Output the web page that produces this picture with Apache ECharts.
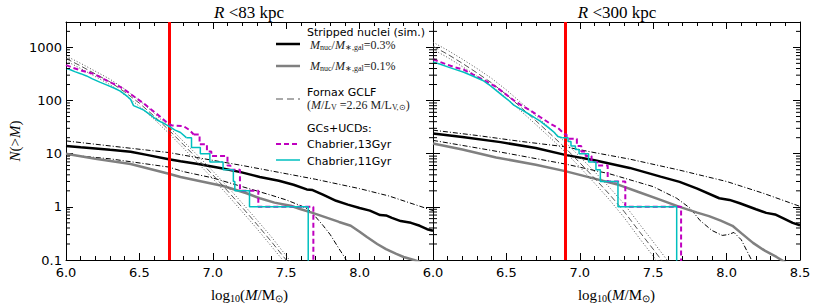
<!DOCTYPE html>
<html><head><meta charset="utf-8">
<script src="https://cdn.jsdelivr.net/npm/echarts@6/dist/echarts.min.js"></script>
<style>html,body{margin:0;padding:0;background:#fff}#c{width:822px;height:308px}</style>
</head><body><div id="c"></div>
<script>
// ================= DATA =================
const X_TICKS = [6.0, 6.5, 7.0, 7.5, 8.0, 8.5];
const Y_DECADES = [0.1, 1, 10, 100, 1000];
const MINOR_Y = [0.2,0.3,0.4,0.5,0.6,0.7,0.8,0.9,2,3,4,5,6,7,8,9,20,30,40,50,60,70,80,90,200,300,400,500,600,700,800,900,2000];
const RED_LIMIT_L = 6.7, RED_LIMIT_R = 6.9;

// ---- left panel: R < 83 kpc ----
const X_NUC03_L = [6.0,6.1,6.2,6.3,6.44,6.55,6.7,6.78,6.9,7.05,7.19,7.32,7.45,7.55,7.64,7.68,7.75,7.84,7.92,8.0,8.07,8.14,8.18,8.22,8.28,8.35,8.41,8.46,8.5];
const N_NUC03_L = [14,13.2,12.5,11.8,10.9,9.5,7.85,7.2,6.4,5.4,4.5,3.65,3.1,2.6,2.13,2.07,1.7,1.3,1.1,0.95,0.85,0.7,0.69,0.62,0.54,0.5,0.44,0.38,0.355];
const X_NUC01_L = [6.0,6.2,6.44,6.7,6.78,6.9,7.07,7.23,7.32,7.42,7.53,7.6,7.68,7.78,7.86,7.94,8.0,8.05,8.12,8.18,8.25,8.3,8.37,8.42];
const N_NUC01_L = [10,8.0,6.4,4.2,3.65,3.1,2.46,1.8,1.45,1.2,1.05,0.9,0.77,0.62,0.52,0.44,0.34,0.27,0.2,0.16,0.13,0.114,0.1,0.09];
const X_UP_L = [6.0,6.3,6.7,7.0,7.2,7.5,7.7,8.0,8.2,8.4,8.5];
const N_UP_L = [17.4,14,10.5,7.5,6.0,4.2,3.3,2.2,1.6,1.05,0.85];
const X_LO_L = [6.0,6.3,6.7,6.8,7.0,7.2,7.4,7.5,7.6,7.65,7.7,7.75,7.8,7.85,7.9,7.95];
const N_LO_L = [9.6,8.0,5.6,4.6,3.5,2.4,1.65,1.35,1.05,0.9,0.65,0.45,0.3,0.18,0.11,0.06];
const X_GCLF_L = [6.0,6.1,6.2,6.3,6.4,6.5,6.6,6.7,6.8,6.9,7.0,7.1,7.2,7.3,7.4,7.5,7.55];
const N_GCLF_L = [617,447,316,224,145,89,51,28,14.8,7.8,4.0,2.0,0.98,0.47,0.22,0.1,0.066];
const N_GCLF_HI_L = [690,500,355,252,164,101,58,32,17,9.1,4.7,2.4,1.18,0.57,0.27,0.12,0.08];
const N_GCLF_LO_L = [556,400,282,199,128,78,44.5,24.3,12.7,6.6,3.4,1.68,0.81,0.39,0.18,0.083,0.055];
// GCs+UCDs, Chabrier 11 Gyr: continuous part, then discrete steps
const X_C11_L = [6.0,6.03,6.06,6.1,6.14,6.18,6.23,6.28,6.33,6.37,6.4,6.42,6.44,6.46,6.5,6.53,6.57,6.62,6.66,6.7,6.74,6.78,6.82];
const N_C11_L = [403,380,350,320,290,256,222,195,170,150,130,118,105,80,72,66,55,43,38,33,28,25,20];
const XS_C11_L = [6.82,6.855,6.915,6.98,7.07,7.14,7.15,7.25,7.65];
const NS_C11_L = [20,13,10,7,5,3,2,1,0.01];
// GCs+UCDs, Chabrier 13 Gyr
const X_C13_L = [6.0,6.05,6.1,6.15,6.19,6.25,6.31,6.37,6.42,6.47,6.53,6.58,6.64,6.69,6.72,6.8,6.84,6.87];
const N_C13_L = [464,410,370,340,316,260,215,180,145,115,88,68,50,38,34,33,28,23];
const XS_C13_L = [6.87,6.91,6.96,6.99,7.1,7.12,7.185,7.31,7.685];
const NS_C13_L = [23,15,11,9,6,5,2,1,0.01];

// ---- right panel: R < 300 kpc ----
const X_NUC03_R = [6.0,6.2,6.46,6.7,6.9,7.1,7.34,7.55,7.68,7.8,7.95,8.02,8.09,8.2,8.27,8.33,8.38,8.45,8.5];
const N_NUC03_R = [24,20.5,16.5,12.8,9.5,7.5,5.4,3.7,2.95,2.2,1.45,1.35,1.17,0.9,0.77,0.72,0.62,0.5,0.45];
const X_NUC01_R = [6.0,6.2,6.43,6.7,6.9,7.1,7.27,7.4,7.55,7.68,7.8,7.88,7.96,8.04,8.1,8.18,8.26,8.34,8.4];
const N_NUC01_R = [15.5,12,8.5,6.2,4.7,3.4,2.57,1.9,1.35,1.0,0.78,0.67,0.55,0.44,0.32,0.21,0.15,0.114,0.09];
const X_UP_R = [6.0,6.3,6.6,6.9,7.09,7.34,7.68,8.0,8.25,8.5];
const N_UP_R = [27.7,22,17,13.5,10.6,7.9,4.9,3.0,1.8,1.02];
const X_LO_R = [6.0,6.4,6.9,7.2,7.5,7.66,7.75,7.82,7.9,7.97,8.01,8.05,8.1,8.17,8.2];
const N_LO_R = [17.8,11.5,6.4,4.2,2.4,1.45,0.95,0.55,0.36,0.29,0.3,0.33,0.24,0.1,0.07];
const X_GCLF_R = [6.0,6.1,6.2,6.3,6.4,6.5,6.6,6.7,6.8,6.9,7.0,7.1,7.2,7.3,7.4,7.5,7.55,7.6];
const N_GCLF_R = [1047,741,501,331,214,129,74,41.7,23.4,12.9,6.76,3.47,1.74,0.83,0.36,0.16,0.105,0.068];
const N_GCLF_HI_R = [1250,880,600,400,260,158,91,52,29.5,16.5,8.8,4.6,2.35,1.15,0.5,0.22,0.145,0.095];
const N_GCLF_LO_R = [915,645,435,287,185,111,63,35.5,19.8,10.8,5.6,2.8,1.38,0.64,0.27,0.118,0.076,0.049];
const X_C11_R = [6.0,6.05,6.1,6.15,6.21,6.27,6.34,6.38,6.43,6.48,6.52,6.55,6.6,6.66,6.7,6.73,6.78,6.82,6.85,6.88];
const N_C11_R = [533,480,430,385,340,290,238,200,155,120,98,82,68,54,46,41,32,26,21,20];
const XS_C11_R = [6.88,6.92,6.94,6.97,6.995,7.06,7.11,7.14,7.26,7.66];
const NS_C11_R = [20,17,14,12,10,7,5,3,1,0.01];
const X_C13_R = [6.0,6.05,6.1,6.15,6.21,6.28,6.35,6.43,6.49,6.55,6.6,6.66,6.73,6.79,6.85,6.9];
const N_C13_R = [598,530,470,420,380,300,240,180,135,101,82,66,49,38,30.6,23];
const XS_C13_R = [6.9,6.91,6.98,7.01,7.04,7.08,7.12,7.19,7.31,7.69];
const NS_C13_R = [23,19,14,11,9,7,6,3,1,0.01];

// ================= CHART =================
const zip = (xs, ys) => xs.map((x, i) => [x, ys[i]]);
const SERIF = 'Liberation Serif';
const SANS = 'DejaVu Sans';

const C_BLACK = '#000000', C_GRAY = '#808080', C_MAG = '#bf00bf', C_CYAN = '#00bfbf', C_RED = '#ff0000', C_GCLF = '#555555';
const DASHDOT = [5, 2, 1, 2];

function xAxisDef(grid, pos, showLabels, hideMax) {
  return {
    type: 'value', gridIndex: grid, position: pos, min: 6, max: 8.5, interval: 0.5,
    axisLine: { show: true, onZero: false, lineStyle: { color: '#000', width: 1 } },
    axisTick: { show: true, inside: true, length: 7, lineStyle: { color: '#000', width: 1 } },
    minorTick: { show: true, splitNumber: 5, length: 4, lineStyle: { color: '#000', width: 1 } },
    splitLine: { show: false },
    axisLabel: {
      show: showLabels, margin: 6, fontSize: 13, fontFamily: SANS, color: '#000',
      showMaxLabel: !hideMax, showMinLabel: true,
      formatter: v => X_TICKS.some(t => Math.abs(t - v) < 1e-9) ? v.toFixed(1) : ''
    },
    name: showLabels ? '{r|log}{s|10}{r|(}{i|M}{r|/M}{s|⊙}{r|)}' : '',
    nameLocation: 'middle', nameGap: 27,
    nameTextStyle: {
      color: '#000',
      rich: {
        r: { fontFamily: SERIF, fontSize: 15, color: '#000' },
        i: { fontFamily: SERIF, fontStyle: 'italic', fontSize: 15, color: '#000' },
        s: { fontFamily: SERIF, fontSize: 10, color: '#000', verticalAlign: 'bottom', padding: [6, 0, 0, 0] }
      }
    }
  };
}
function yAxisDef(grid, pos, showLabels) {
  return {
    type: 'log', logBase: 10, gridIndex: grid, position: pos, min: 0.1, max: 3000,
    axisLine: { show: true, onZero: false, lineStyle: { color: '#000', width: 1 } },
    axisTick: { show: true, inside: true, length: 7, lineStyle: { color: '#000', width: 1 } },
    minorTick: { show: false },
    splitLine: { show: false },
    axisLabel: {
      show: showLabels, margin: 4, fontSize: 13, fontFamily: SANS, color: '#000', showMaxLabel: false,
      formatter: v => {
        const d = Y_DECADES.find(t => Math.abs(Math.log10(t) - Math.log10(v)) < 1e-6);
        return d === undefined ? '' : String(d);
      }
    },
    name: showLabels ? '{i|N}{r|(>}{i|M}{r|)}' : '',
    nameLocation: 'middle', nameGap: 44, nameRotate: 90,
    nameTextStyle: {
      color: '#000',
      rich: {
        r: { fontFamily: SERIF, fontSize: 15, color: '#000' },
        i: { fontFamily: SERIF, fontStyle: 'italic', fontSize: 15, color: '#000' }
      }
    }
  };
}

function lineSeries(xi, yi, xs, ys, color, width, type, z, step) {
  return {
    type: 'line', xAxisIndex: xi, yAxisIndex: yi, data: zip(xs, ys),
    showSymbol: false, symbol: 'none', smooth: false, step: step || false, clip: true,
    silent: true, animation: false, z: z,
    lineStyle: { color: color, width: width, type: type }
  };
}
function minorTickSeries(xi, yi) {
  return {
    type: 'custom', xAxisIndex: xi, yAxisIndex: yi, silent: true, animation: false, clip: false, z: 10,
    data: MINOR_Y.map(v => [6, v]),
    renderItem: (params, api) => {
      const y = api.coord([6, api.value(1)])[1];
      const cs = params.coordSys;
      return { type: 'group', children: [
        { type: 'line', shape: { x1: cs.x, y1: y, x2: cs.x + 4, y2: y }, style: { stroke: '#000', lineWidth: 1 } },
        { type: 'line', shape: { x1: cs.x + cs.width, y1: y, x2: cs.x + cs.width - 4, y2: y }, style: { stroke: '#000', lineWidth: 1 } }
      ]};
    }
  };
}
function redSeries(xi, yi, xv) {
  return {
    type: 'line', xAxisIndex: xi, yAxisIndex: yi, data: [], z: 1, silent: true, animation: false,
    markLine: { silent: true, symbol: 'none', animation: false, label: { show: false },
      lineStyle: { color: C_RED, width: 3, type: 'solid' }, data: [{ xAxis: xv }] }
  };
}
function panel(xi, yi, d) {
  return [
    redSeries(xi, yi, d.red),
    lineSeries(xi, yi, d.xUp, d.nUp, C_BLACK, 1, DASHDOT, 3),
    lineSeries(xi, yi, d.xLo, d.nLo, C_BLACK, 1, DASHDOT, 3),
    lineSeries(xi, yi, d.x01, d.n01, C_GRAY, 2.5, 'solid', 4),
    lineSeries(xi, yi, d.x03, d.n03, C_BLACK, 2.5, 'solid', 4),
    lineSeries(xi, yi, d.xG, d.nGhi, C_GCLF, 1, [1, 2], 5),
    lineSeries(xi, yi, d.xG, d.nGlo, C_GCLF, 1, [1, 2], 5),
    lineSeries(xi, yi, d.xG, d.nG, C_GCLF, 1, [6, 3], 5),
    lineSeries(xi, yi, d.xC13, d.nC13, C_MAG, 2, [5, 3], 6),
    lineSeries(xi, yi, d.xsC13, d.nsC13, C_MAG, 2, [5, 3], 6, 'end'),
    lineSeries(xi, yi, d.xC11, d.nC11, C_CYAN, 1.5, 'solid', 7),
    lineSeries(xi, yi, d.xsC11, d.nsC11, C_CYAN, 1.5, 'solid', 7, 'end'),
    minorTickSeries(xi, yi)
  ];
}

const mathRich = {
  i: { fontFamily: SERIF, fontStyle: 'italic', fontSize: 12, color: '#222' },
  r: { fontFamily: SERIF, fontSize: 12, color: '#222' },
  s: { fontFamily: SERIF, fontSize: 8, color: '#222', verticalAlign: 'bottom', padding: [5, 0, 0, 0] }
};
const sansText = (x, y, t) => ({ type: 'text', x: x, y: y, silent: true,
  style: { text: t, fontFamily: SANS, fontSize: 11, fill: '#000', verticalAlign: 'middle', textVerticalAlign: 'middle' } });
const mathText = (x, y, t) => ({ type: 'text', x: x, y: y, silent: true,
  style: { text: t, rich: mathRich, verticalAlign: 'middle', textVerticalAlign: 'middle', fill: '#222' } });
const sample = (y, color, w, dash) => ({ type: 'line', silent: true,
  shape: { x1: 276, y1: y, x2: 300, y2: y }, style: { stroke: color, lineWidth: w, lineDash: dash || null } });
const titleText = (x, t) => ({ type: 'text', x: x, y: 12, silent: true,
  style: { text: t, align: 'center', textAlign: 'center', verticalAlign: 'middle', textVerticalAlign: 'middle',
    rich: { i: { fontFamily: SERIF, fontStyle: 'italic', fontSize: 17, color: '#000' },
            r: { fontFamily: SERIF, fontSize: 17, color: '#000' } } } });

const option = {
  backgroundColor: '#fff',
  animation: false,
  grid: [
    { left: 66, top: 22, width: 367, height: 242, containLabel: false },
    { left: 433, top: 22, width: 367, height: 242, containLabel: false }
  ],
  xAxis: [xAxisDef(0, 'bottom', true, true), xAxisDef(0, 'top', false, false),
          xAxisDef(1, 'bottom', true, false), xAxisDef(1, 'top', false, false)],
  yAxis: [yAxisDef(0, 'left', true), yAxisDef(0, 'right', false),
          yAxisDef(1, 'left', false), yAxisDef(1, 'right', false)],
  series: [
    ...panel(0, 0, { red: RED_LIMIT_L, x03: X_NUC03_L, n03: N_NUC03_L, x01: X_NUC01_L, n01: N_NUC01_L,
      xUp: X_UP_L, nUp: N_UP_L, xLo: X_LO_L, nLo: N_LO_L, xG: X_GCLF_L, nG: N_GCLF_L, nGhi: N_GCLF_HI_L, nGlo: N_GCLF_LO_L,
      xC11: X_C11_L, nC11: N_C11_L, xsC11: XS_C11_L, nsC11: NS_C11_L,
      xC13: X_C13_L, nC13: N_C13_L, xsC13: XS_C13_L, nsC13: NS_C13_L }),
    ...panel(2, 2, { red: RED_LIMIT_R, x03: X_NUC03_R, n03: N_NUC03_R, x01: X_NUC01_R, n01: N_NUC01_R,
      xUp: X_UP_R, nUp: N_UP_R, xLo: X_LO_R, nLo: N_LO_R, xG: X_GCLF_R, nG: N_GCLF_R, nGhi: N_GCLF_HI_R, nGlo: N_GCLF_LO_R,
      xC11: X_C11_R, nC11: N_C11_R, xsC11: XS_C11_R, nsC11: NS_C11_R,
      xC13: X_C13_R, nC13: N_C13_R, xsC13: XS_C13_R, nsC13: NS_C13_R })
  ],
  graphic: [
    titleText(249, '{i|R }{r|<83 kpc}'),
    titleText(617, '{i|R }{r|<300 kpc}'),
    sansText(307, 32, 'Stripped nuclei (sim.)'),
    sample(44, C_BLACK, 2.5),
    mathText(310, 45, '{i|M}{s|nuc}{r|/}{i|M}{s|∗,gal}{r|=0.3%}'),
    sample(66, C_GRAY, 2.5),
    mathText(310, 66, '{i|M}{s|nuc}{r|/}{i|M}{s|∗,gal}{r|=0.1%}'),
    sansText(307, 92, 'Fornax GCLF'),
    sample(99, C_GCLF, 1, [7, 4]),
    mathText(307, 105, '{r|(}{i|M}{r|/}{i|L}{s|V}{r| =2.26 M/L}{s|V,⊙}{r|)}'),
    sansText(307, 128, 'GCs+UCDs:'),
    sample(144, C_MAG, 2, [5, 3]),
    sansText(307, 144, 'Chabrier,13Gyr'),
    sample(160, C_CYAN, 1.5),
    sansText(307, 161, 'Chabrier,11Gyr')
  ]
};

const chart = echarts.init(document.getElementById('c'), null, { renderer: 'svg', width: 822, height: 308 });
chart.setOption(option);
</script>
</body></html>
